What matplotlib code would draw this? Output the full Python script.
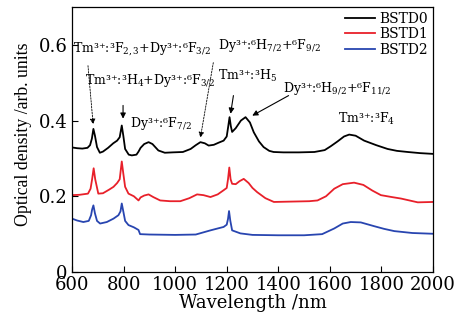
import matplotlib
matplotlib.use("Agg")
import matplotlib.pyplot as plt

plt.rcParams['font.family'] = ['DejaVu Serif']
plt.rcParams['mathtext.fontset'] = 'dejavuserif'

wl0 = [600, 620, 640, 660, 670, 677, 683, 689, 697, 708, 720, 740, 760, 775, 785, 793, 799, 806, 820, 832, 850, 858,
       866, 880, 897, 912, 935, 960, 990, 1030, 1060, 1080, 1098, 1115, 1130, 1150, 1170, 1188, 1200, 1206, 1211, 1216,
       1221, 1235, 1255, 1273, 1290, 1305, 1325, 1343, 1365, 1382, 1420, 1480, 1540, 1580, 1603, 1630, 1655, 1675,
       1700, 1733, 1780, 1824, 1860, 1902, 1950, 2000]
od0 = [0.329, 0.327, 0.326, 0.328, 0.335, 0.352, 0.378, 0.360, 0.330, 0.315, 0.318, 0.328, 0.340, 0.347, 0.356, 0.387,
       0.360, 0.325, 0.310, 0.308, 0.310, 0.318, 0.328, 0.338, 0.343, 0.338, 0.321, 0.315, 0.316, 0.317, 0.325, 0.335,
       0.343, 0.340, 0.334, 0.336, 0.342, 0.347, 0.358, 0.385, 0.409, 0.385, 0.370, 0.380, 0.400, 0.409, 0.395, 0.369,
       0.345, 0.330, 0.320, 0.317, 0.316, 0.316, 0.317, 0.322, 0.332, 0.345, 0.358, 0.363, 0.360, 0.347, 0.335, 0.325,
       0.320, 0.317, 0.314, 0.312]

wl1 = [600, 630, 662, 672, 678, 684, 690, 702, 720, 745, 761, 775, 785, 793, 799, 806, 819, 840, 858, 866, 880, 897,
       915, 942, 980, 1020, 1055, 1085, 1110, 1137, 1165, 1188, 1200, 1205, 1210, 1215, 1221, 1235, 1250, 1266, 1285,
       1300, 1318, 1350, 1383, 1450, 1520, 1552, 1585, 1617, 1650, 1694, 1730, 1765, 1798, 1840, 1876, 1941, 2000]
od1 = [0.203, 0.204, 0.207, 0.220, 0.245, 0.274, 0.245, 0.207, 0.208, 0.218, 0.225, 0.235, 0.245, 0.292, 0.260, 0.225,
       0.207, 0.200, 0.189, 0.197, 0.202, 0.205, 0.198, 0.189, 0.187, 0.187, 0.195, 0.205, 0.203, 0.198, 0.205, 0.216,
       0.222, 0.245, 0.276, 0.245, 0.233, 0.232, 0.240, 0.246, 0.235, 0.222, 0.211, 0.195, 0.185, 0.186, 0.187, 0.189,
       0.200, 0.220, 0.232, 0.236, 0.230, 0.215, 0.203, 0.198, 0.194, 0.184, 0.185]

wl2 = [600, 620, 644, 665, 674, 678, 683, 689, 697, 709, 735, 761, 780, 788, 793, 799, 806, 819, 840, 858, 864, 900,
       1000, 1080, 1137, 1165, 1188, 1200, 1205, 1209, 1214, 1221, 1253, 1300, 1400, 1500, 1570, 1617, 1650, 1681,
       1720, 1772, 1810, 1850, 1920, 2000]
od2 = [0.141, 0.136, 0.132, 0.135, 0.150, 0.165, 0.176, 0.155, 0.135, 0.128, 0.132, 0.141, 0.150, 0.160, 0.181, 0.160,
       0.135, 0.124, 0.118, 0.111, 0.100, 0.099, 0.098, 0.099, 0.110, 0.115, 0.119, 0.125, 0.140, 0.161, 0.135, 0.110,
       0.102, 0.098, 0.097, 0.097, 0.100, 0.115, 0.128, 0.132, 0.131, 0.121, 0.114, 0.108, 0.103, 0.101]

series_names = ['BSTD0', 'BSTD1', 'BSTD2']
series_colors = ['#000000', '#e8202a', '#2845b0']

xticks = [600, 800, 1000, 1200, 1400, 1600, 1800, 2000]
yticks = [0, 0.2, 0.4, 0.6]
ytick_labels = ['0', '0.2', '0.4', '0.6']

fig = plt.figure(figsize=(4.68, 3.27), dpi=100)
ax = fig.add_axes([72 / 468, 55 / 327, 361 / 468, 265 / 327])

for wl, od, name, col in zip([wl0, wl1, wl2], [od0, od1, od2], series_names, series_colors):
    ax.plot(wl, od, color=col, lw=1.3, label=name)

ax.set_xlim(600, 2000)
ax.set_ylim(0, 0.7)
ax.set_xticks(xticks)
ax.set_yticks(yticks)
ax.set_yticklabels(ytick_labels)
ax.tick_params(direction='in', length=4, width=0.8, labelsize=13, pad=3)
for s in ax.spines.values():
    s.set_linewidth(0.9)

ax.set_xlabel('Wavelength /nm', fontsize=13, labelpad=0)
ax.set_ylabel('Optical density /arb. units', fontsize=12.8, family=['Liberation Serif'])
ax.yaxis.set_label_coords(-0.11, 0.52)

leg = ax.legend(loc='upper right', frameon=False, fontsize=10, handlelength=2.15,
                handletextpad=0.35, labelspacing=0.1, borderaxespad=0.1, borderpad=0.25)

fs = 9
ax.text(604, 0.589, 'Tm³⁺:³F$_{2,3}$+Dy³⁺:⁶F$_{3/2}$', fontsize=fs, ha='left', va='center')
ax.text(651, 0.505, 'Tm³⁺:³H$_{4}$+Dy³⁺:⁶F$_{3/2}$', fontsize=fs, ha='left', va='center')
ax.text(826, 0.392, 'Dy³⁺:⁶F$_{7/2}$', fontsize=fs, ha='left', va='center')
ax.text(1168, 0.597, 'Dy³⁺:⁶H$_{7/2}$+⁶F$_{9/2}$', fontsize=fs, ha='left', va='center')
ax.text(1168, 0.518, 'Tm³⁺:³H$_{5}$', fontsize=fs, ha='left', va='center')
ax.text(1417, 0.484, 'Dy³⁺:⁶H$_{9/2}$+⁶F$_{11/2}$', fontsize=fs, ha='left', va='center')
ax.text(1631, 0.405, 'Tm³⁺:³F$_{4}$', fontsize=fs, ha='left', va='center')

dashed = dict(arrowstyle='-|>', lw=0.6, linestyle=(0, (2, 1.5)), color='black', mutation_scale=8, shrinkA=0, shrinkB=0)
solid = dict(arrowstyle='-|>', lw=0.8, color='black', mutation_scale=8, shrinkA=0, shrinkB=0)
ax.annotate('', xy=(682, 0.390), xytext=(662, 0.545), arrowprops=dashed)
ax.annotate('', xy=(798, 0.405), xytext=(798, 0.44), arrowprops=solid)
ax.annotate('', xy=(1098, 0.355), xytext=(1148, 0.553), arrowprops=dashed)
ax.annotate('', xy=(1215, 0.418), xytext=(1226, 0.466), arrowprops=solid)
ax.annotate('', xy=(1299, 0.413), xytext=(1440, 0.466), arrowprops=solid)

fig.savefig('out.png', dpi=100)
